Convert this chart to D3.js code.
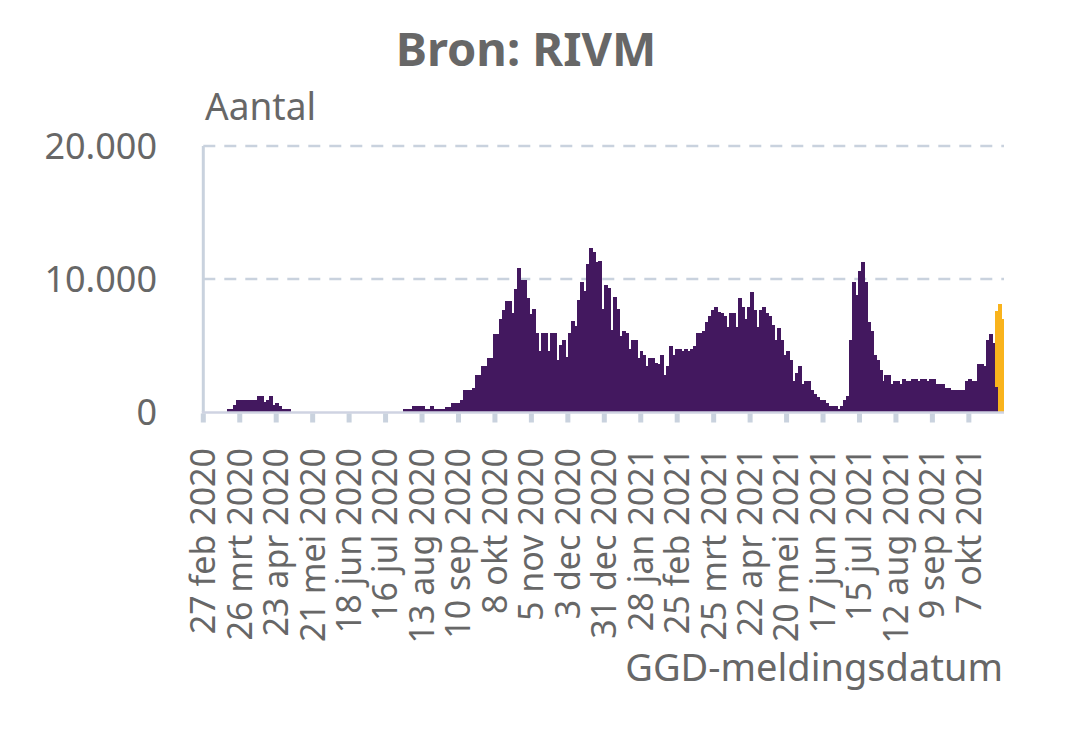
<!DOCTYPE html>
<html>
<head>
<meta charset="utf-8">
<script src="https://cdn.jsdelivr.net/npm/d3@7"></script>
<style>
  html, body { margin: 0; padding: 0; background: #ffffff; }
  svg { display: block; font-family: 'Noto Sans', 'Open Sans', sans-serif; }
</style>
</head>
<body>
<svg id="chart" width="1080" height="736"></svg>
<script>
// ---------- data ----------
const titel = "Bron: RIVM";
const yTitel = "Aantal";
const xTitel = "GGD-meldingsdatum";
const startDatum = "2020-02-27";
const eindDatum = "2021-11-03";

const tickLabels = [
  "27 feb 2020", "26 mrt 2020", "23 apr 2020", "21 mei 2020", "18 jun 2020",
  "16 jul 2020", "13 aug 2020", "10 sep 2020", "8 okt 2020", "5 nov 2020",
  "3 dec 2020", "31 dec 2020", "28 jan 2021", "25 feb 2021", "25 mrt 2021",
  "22 apr 2021", "20 mei 2021", "17 jun 2021", "15 jul 2021", "12 aug 2021",
  "9 sep 2021", "7 okt 2021"
];
const tickDatums = [
  "2020-02-27", "2020-03-26", "2020-04-23", "2020-05-21", "2020-06-18",
  "2020-07-16", "2020-08-13", "2020-09-10", "2020-10-08", "2020-11-05",
  "2020-12-03", "2020-12-31", "2021-01-28", "2021-02-25", "2021-03-25",
  "2021-04-22", "2021-05-20", "2021-06-17", "2021-07-15", "2021-08-12",
  "2021-09-09", "2021-10-07"
];
const yTicks = [0, 10000, 20000];
const yTickLabels = ["0", "10.000", "20.000"];

// meldingen per staaf (purple)
const aantalBevestigd = [
  0,0,0,0,0,0,0,0,
  250,250,500,925,925,925,925,925,925,925,1175,1175,775,925,1175,550,700,450,250,250,250,
  0,0,0,0,0,0,0,0,0,0,0,0,0,0,0,0,0,0,0,0,0,0,0,0,0,0,0,0,0,0,0,0,0,0,0,0,0,0,
  250,250,250,475,475,475,475,250,250,475,250,250,250,250,400,400,675,675,675,925,
  1625,1625,1625,1825,2750,2750,3425,3425,4075,4075,5875,5875,7000,7675,8375,8375,
  7425,9250,10825,9950,9950,8575,7400,7750,5950,4600,5950,5950,4600,5950,5950,3900,
  5050,5450,4100,5950,6850,6450,8450,9750,9100,11100,12300,12050,11250,11350,
  7750,9575,9325,6175,8650,7750,5750,6125,5925,4750,
  5425,5425,4075,4550,4300,3425,4075,4075,3675,3625,
  4300,2750,3425,5000,4300,4750,4750,4550,4750,4550,
  4750,5000,5925,5925,6125,6800,7250,7675,7925,7500,
  7425,7250,6375,7425,7425,6375,8575,7925,7000,7925,
  9050,7675,6375,7675,7925,7425,7250,6575,5425,6325,
  5425,4300,4550,3875,2325,2925,3425,2075,2325,2325,
  1675,1375,1125,925,925,675,475,475,475,250,
  475,925,1175,5425,9750,8825,10625,11300,9750,6800,
  6125,4300,3875,3175,2325,2750,2750,2075,2325,2325,
  2075,2500,2325,2325,2500,2500,2325,2500,2500,2325,
  2500,2500,2075,2075,2075,1825,1825,1625,1625,1625,
  1625,1625,2325,2500,2325,2325,3625,3625,3425,5425,
  5875,5200,1875,0,0
];
// laatste staven: nog niet compleet (orange), on top of the purple
const aantalRecent = [5725, 8130, 7000];

// ---------- layout ----------
const W = 1080, H = 736;
const plot = { left: 203.3, right: 1004, top: 146, bottom: 412 };
const colors = {
  bevestigd: "#43185f",
  recent: "#f9b31c",
  text: "#676767",
  axis: "#c9d2de"
};

const svg = d3.select("#chart");
const parse = d3.utcParse("%Y-%m-%d");

const x = d3.scaleUtc()
  .domain([parse(startDatum), parse(eindDatum)])
  .range([plot.left, plot.right]);

const y = d3.scaleLinear()
  .domain([0, 20000])
  .range([plot.bottom, plot.top]);

const N = aantalBevestigd.length;
const xBand = d3.scaleBand()
  .domain(d3.range(N))
  .range([plot.left, plot.right])
  .padding(0);

const table = d3.range(N).map(i => {
  const k = i - (N - aantalRecent.length);
  return { i, bevestigd: aantalBevestigd[i], recent: k >= 0 ? aantalRecent[k] : 0 };
});
const series = d3.stack().keys(["bevestigd", "recent"])(table);

// ---------- gridlines ----------
svg.append("g")
  .selectAll("line")
  .data(yTicks.filter(v => v > 0))
  .join("line")
  .attr("x1", plot.left)
  .attr("x2", plot.right)
  .attr("y1", d => y(d))
  .attr("y2", d => y(d))
  .attr("stroke", colors.axis)
  .attr("stroke-width", 2.6)
  .attr("stroke-dasharray", "12,9");

// ---------- bars ----------
svg.append("g")
  .attr("shape-rendering", "crispEdges")
  .selectAll("g")
  .data(series)
  .join("g")
  .attr("fill", d => colors[d.key])
  .selectAll("rect")
  .data(d => d.filter(p => p[1] - p[0] > 0))
  .join("rect")
  .attr("x", d => xBand(d.data.i))
  .attr("width", d => d.data.i === N - 1 ? xBand.bandwidth() : xBand.bandwidth() + 1)
  .attr("y", d => y(d[1]))
  .attr("height", d => y(d[0]) - y(d[1]));

// ---------- axes ----------
svg.append("line")
  .attr("x1", plot.left).attr("x2", plot.left)
  .attr("y1", plot.top).attr("y2", plot.bottom)
  .attr("stroke", colors.axis).attr("stroke-width", 3);

svg.append("line")
  .attr("x1", plot.left - 1.5).attr("x2", plot.right)
  .attr("y1", plot.bottom + 0.5).attr("y2", plot.bottom + 0.5)
  .attr("stroke", "#cfd3e2").attr("stroke-width", 2.5);

const xAxis = svg.append("g");
const ticks = tickDatums.map((d, i) => ({ date: parse(d), label: tickLabels[i] }));

xAxis.selectAll("rect.tick")
  .data(ticks)
  .join("rect")
  .attr("class", "tick")
  .attr("x", d => x(d.date) - 2.5)
  .attr("y", plot.bottom + 1.5)
  .attr("width", 5)
  .attr("height", 9)
  .attr("fill", colors.axis);

xAxis.selectAll("text")
  .data(ticks)
  .join("text")
  .attr("transform", d => `translate(${x(d.date)},448) rotate(-90)`)
  .attr("text-anchor", "end")
  .attr("dy", "0.35em")
  .attr("font-size", 34)
  .attr("fill", colors.text)
  .text(d => d.label);

// y tick labels
svg.append("g")
  .selectAll("text")
  .data(yTicks)
  .join("text")
  .attr("x", 157)
  .attr("y", d => y(d))
  .attr("dy", "0.36em")
  .attr("text-anchor", "end")
  .attr("font-size", 36)
  .attr("fill", colors.text)
  .text((d, i) => yTickLabels[i]);

// ---------- titles ----------
svg.append("text")
  .attr("x", 526)
  .attr("y", 66)
  .attr("text-anchor", "middle")
  .attr("font-size", 47)
  .attr("font-weight", "bold")
  .attr("fill", colors.text)
  .text(titel);

svg.append("text")
  .attr("x", 205)
  .attr("y", 120)
  .attr("font-size", 39)
  .attr("textLength", 111)
  .attr("lengthAdjust", "spacingAndGlyphs")
  .attr("fill", colors.text)
  .text(yTitel);

svg.append("text")
  .attr("x", 1003)
  .attr("y", 681)
  .attr("text-anchor", "end")
  .attr("font-size", 38)
  .attr("fill", colors.text)
  .text(xTitel);
</script>
</body>
</html>
